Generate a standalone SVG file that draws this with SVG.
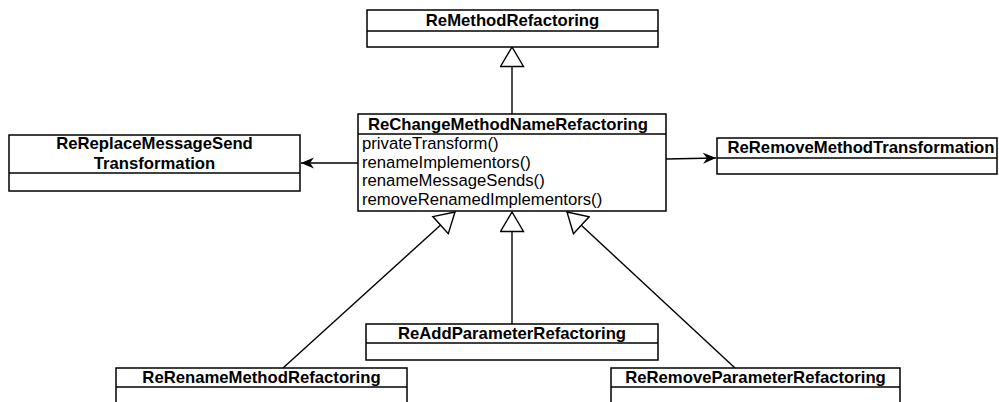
<svg xmlns="http://www.w3.org/2000/svg" width="999" height="402" viewBox="0 0 999 402">
<style>
.box{fill:#fff;stroke:#000;stroke-width:1.5}
.t{font-family:"Liberation Sans",Arial,sans-serif;font-size:16.7px;fill:#000}
.b{font-weight:bold;text-anchor:middle}
.c{fill:none;stroke:#000;stroke-width:1.4}
</style>
<defs>
<marker id="gen" markerUnits="userSpaceOnUse" viewBox="-1 -1 22 25" markerWidth="22" markerHeight="25" refX="19.5" refY="11.5" orient="auto">
<path d="M0,0 L19.5,11.5 L0,23 z" fill="#fff" stroke="#000" stroke-width="1.4"/>
</marker>
<marker id="nav" markerUnits="userSpaceOnUse" viewBox="0 0 14 12" markerWidth="14" markerHeight="12" refX="13" refY="6" orient="auto">
<path d="M0,0.5 L13,6 L0,11.5 L4,6 z" fill="#000"/>
</marker>
</defs>
<g id="connectors">
<line class="c" x1="512" y1="114" x2="512" y2="47" marker-end="url(#gen)"/>
<line class="c" x1="358" y1="163" x2="301" y2="163" marker-end="url(#nav)"/>
<line class="c" x1="666" y1="159" x2="716" y2="158" marker-end="url(#nav)"/>
<line class="c" x1="283" y1="368" x2="455" y2="212" marker-end="url(#gen)"/>
<line class="c" x1="512" y1="324" x2="512" y2="212" marker-end="url(#gen)"/>
<line class="c" x1="735" y1="368" x2="567" y2="212" marker-end="url(#gen)"/>
</g>
<g id="ReMethodRefactoring">
<rect class="box" x="367" y="10" width="291" height="37"/>
<line class="c" x1="367" y1="31" x2="658" y2="31"/>
<text class="t b" x="512.5" y="26">ReMethodRefactoring</text>
</g>
<g id="ReChangeMethodNameRefactoring">
<rect class="box" x="358" y="114" width="308" height="97"/>
<line class="c" x1="358" y1="134" x2="666" y2="134"/>
<text class="t b" x="508" y="130">ReChangeMethodNameRefactoring</text>
<text class="t" x="362" y="149">privateTransform()</text>
<text class="t" x="362" y="167.5">renameImplementors()</text>
<text class="t" x="362" y="186">renameMessageSends()</text>
<text class="t" x="362" y="204.5">removeRenamedImplementors()</text>
</g>
<g id="ReReplaceMessageSendTransformation">
<rect class="box" x="9" y="135" width="291" height="56"/>
<line class="c" x1="9" y1="173" x2="300" y2="173"/>
<text class="t b" x="154.5" y="149">ReReplaceMessageSend</text>
<text class="t b" x="154.5" y="169">Transformation</text>
</g>
<g id="ReRemoveMethodTransformation">
<rect class="box" x="717" y="138" width="280" height="36"/>
<line class="c" x1="717" y1="158" x2="997" y2="158"/>
<text class="t b" x="861" y="153">ReRemoveMethodTransformation</text>
</g>
<g id="ReAddParameterRefactoring">
<rect class="box" x="366" y="324" width="292" height="36"/>
<line class="c" x1="366" y1="343" x2="658" y2="343"/>
<text class="t b" x="512" y="339">ReAddParameterRefactoring</text>
</g>
<g id="ReRenameMethodRefactoring">
<rect class="box" x="116" y="368" width="291" height="40"/>
<line class="c" x1="116" y1="387" x2="407" y2="387"/>
<text class="t b" x="261.5" y="383">ReRenameMethodRefactoring</text>
</g>
<g id="ReRemoveParameterRefactoring">
<rect class="box" x="611" y="368" width="289" height="40"/>
<line class="c" x1="611" y1="387" x2="900" y2="387"/>
<text class="t b" x="755.5" y="383">ReRemoveParameterRefactoring</text>
</g>
</svg>
